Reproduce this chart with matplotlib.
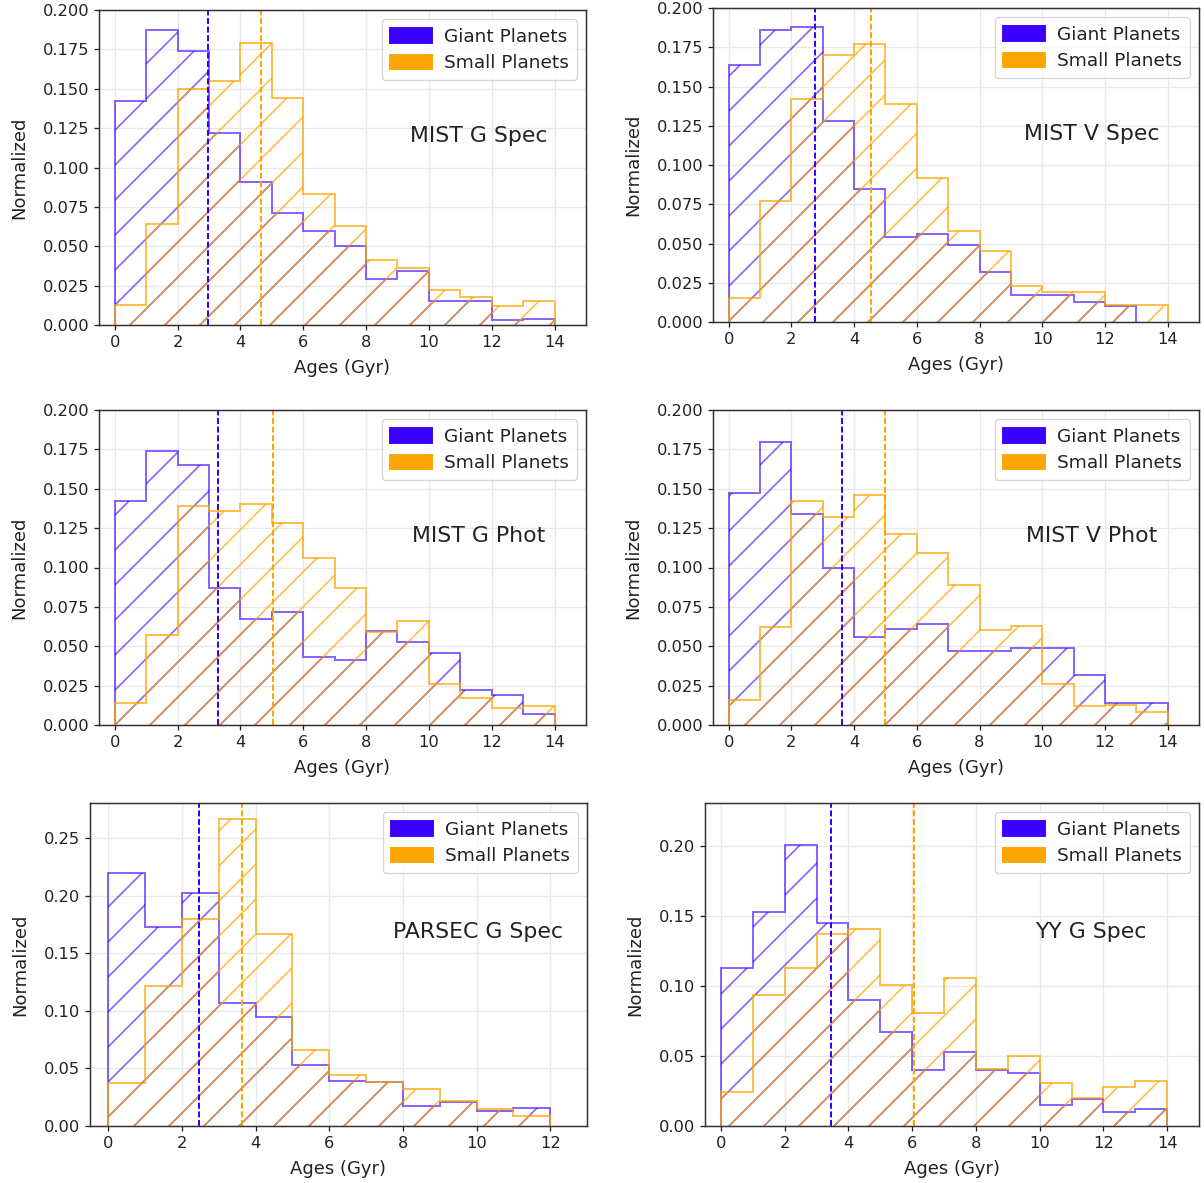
import numpy as np
import matplotlib
matplotlib.use('Agg')
import matplotlib.pyplot as plt
import matplotlib.patches as mpatches
from matplotlib.ticker import FormatStrFormatter

# model names shown on each panel
models = ['MIST G Spec', 'MIST V Spec', 'MIST G Phot', 'MIST V Phot', 'PARSEC G Spec', 'YY G Spec']

# normalized histogram heights, 1 Gyr bins starting at 0
giant_mist_g_spec = [0.142, 0.187, 0.174, 0.122, 0.091, 0.071, 0.060, 0.050, 0.029, 0.034, 0.015, 0.015, 0.003, 0.004]
small_mist_g_spec = [0.013, 0.064, 0.150, 0.155, 0.179, 0.144, 0.083, 0.063, 0.041, 0.036, 0.022, 0.018, 0.012, 0.015]

giant_mist_v_spec = [0.164, 0.186, 0.188, 0.128, 0.085, 0.054, 0.056, 0.049, 0.032, 0.017, 0.017, 0.013, 0.010]
small_mist_v_spec = [0.015, 0.077, 0.142, 0.170, 0.177, 0.139, 0.092, 0.058, 0.045, 0.023, 0.019, 0.019, 0.011, 0.011]

giant_mist_g_phot = [0.142, 0.174, 0.165, 0.087, 0.067, 0.072, 0.043, 0.041, 0.060, 0.053, 0.046, 0.022, 0.019, 0.007]
small_mist_g_phot = [0.014, 0.057, 0.139, 0.136, 0.140, 0.128, 0.106, 0.087, 0.059, 0.066, 0.026, 0.017, 0.011, 0.012]

giant_mist_v_phot = [0.147, 0.180, 0.134, 0.100, 0.056, 0.061, 0.064, 0.047, 0.047, 0.049, 0.049, 0.032, 0.014, 0.014]
small_mist_v_phot = [0.016, 0.062, 0.142, 0.132, 0.146, 0.121, 0.109, 0.089, 0.060, 0.063, 0.026, 0.012, 0.013, 0.008]

giant_parsec_g_spec = [0.220, 0.173, 0.202, 0.107, 0.095, 0.053, 0.039, 0.038, 0.017, 0.021, 0.013, 0.016]
small_parsec_g_spec = [0.037, 0.122, 0.180, 0.267, 0.167, 0.066, 0.044, 0.038, 0.032, 0.022, 0.015, 0.009]

giant_yy_g_spec = [0.113, 0.153, 0.201, 0.145, 0.090, 0.067, 0.040, 0.053, 0.040, 0.038, 0.015, 0.019, 0.010, 0.012]
small_yy_g_spec = [0.024, 0.094, 0.113, 0.137, 0.141, 0.101, 0.081, 0.106, 0.041, 0.050, 0.031, 0.020, 0.028, 0.032]

# median ages (dashed lines)
giant_medians = [2.98, 2.75, 3.30, 3.62, 2.47, 3.45]
small_medians = [4.65, 4.55, 5.05, 4.98, 3.63, 6.05]

giant_hists = [giant_mist_g_spec, giant_mist_v_spec, giant_mist_g_phot,
               giant_mist_v_phot, giant_parsec_g_spec, giant_yy_g_spec]
small_hists = [small_mist_g_spec, small_mist_v_spec, small_mist_g_phot,
               small_mist_v_phot, small_parsec_g_spec, small_yy_g_spec]

GIANT_COLOR = '#3a00ff'
SMALL_COLOR = '#ffa500'

# axes boxes in pixels: left, right, top, bottom
W, H = 1204, 1183
DPI = 210
boxes = [(99, 586, 10, 325), (713, 1199, 8, 322),
         (99, 586, 410, 725), (713, 1199, 410, 725),
         (90, 587, 803, 1126), (705, 1199, 803, 1126)]
ylims = [0.2, 0.2, 0.2, 0.2, 0.2805, 0.231]


def pt(px):
    # pixel size -> points at the output dpi
    return px * 72.0 / DPI


plt.rcParams['hatch.linewidth'] = pt(1.7)
plt.rcParams['font.family'] = 'DejaVu Sans'

fig = plt.figure(figsize=(W / DPI, H / DPI), dpi=DPI)

for i, model in enumerate(models):
    l, r, t, b = boxes[i]
    ax = fig.add_axes([l / W, 1 - b / H, (r - l) / W, (b - t) / H])
    ax.set_axisbelow(True)
    ax.grid(True, color='#e8e8e8', lw=pt(1.3))

    g = np.array(giant_hists[i])
    s = np.array(small_hists[i])
    g_edges = np.arange(len(g) + 1)
    s_edges = np.arange(len(s) + 1)
    ax.hist(g_edges[:-1], bins=g_edges, weights=g, histtype='step', hatch='//',
            color=GIANT_COLOR, alpha=0.6, lw=pt(2))
    ax.hist(s_edges[:-1], bins=s_edges, weights=s, histtype='step', hatch='//',
            color=SMALL_COLOR, alpha=0.7, lw=pt(2))

    ax.axvline(giant_medians[i], color=GIANT_COLOR, ls='--', lw=pt(2), dashes=(3, 1.3))
    ax.axvline(small_medians[i], color=SMALL_COLOR, ls='--', lw=pt(2), dashes=(3, 1.3))

    xmax = len(s)
    ax.set_xlim(-0.5, xmax + 1)
    ax.set_xticks(np.arange(0, xmax + 1, 2))
    ax.set_ylim(0, ylims[i])
    if ylims[i] == 0.2:
        ax.set_yticks(np.arange(0, 0.2001, 0.025))
        ax.yaxis.set_major_formatter(FormatStrFormatter('%.3f'))
    else:
        ax.set_yticks(np.arange(0, ylims[i], 0.05))
        ax.yaxis.set_major_formatter(FormatStrFormatter('%.2f'))

    ax.tick_params(labelsize=pt(16.3), length=pt(5), width=pt(1.3), pad=pt(5), colors='#222222')
    for sp in ax.spines.values():
        sp.set_linewidth(pt(1.5))
        sp.set_color('#333333')

    ax.set_xlabel('Ages (Gyr)', fontsize=pt(18), labelpad=pt(9), color='#222222')
    ax.set_ylabel('Normalized', fontsize=pt(18), labelpad=pt(14), color='#222222')

    ax.text(0.78, 0.6, model, transform=ax.transAxes, ha='center', va='center',
            fontsize=pt(22), color='#222222')

    handles = [mpatches.Patch(color=GIANT_COLOR, label='Giant Planets'),
               mpatches.Patch(color=SMALL_COLOR, label='Small Planets')]
    leg = ax.legend(handles=handles, loc='upper right', fontsize=pt(18.5), framealpha=0.8,
                    handlelength=2.2, handleheight=0.75, handletextpad=0.7,
                    labelspacing=0.45, borderpad=0.45)
    leg.get_frame().set_linewidth(pt(1.3))
    for txt in leg.get_texts():
        txt.set_color('#222222')

fig.savefig('out.png', dpi=DPI)
